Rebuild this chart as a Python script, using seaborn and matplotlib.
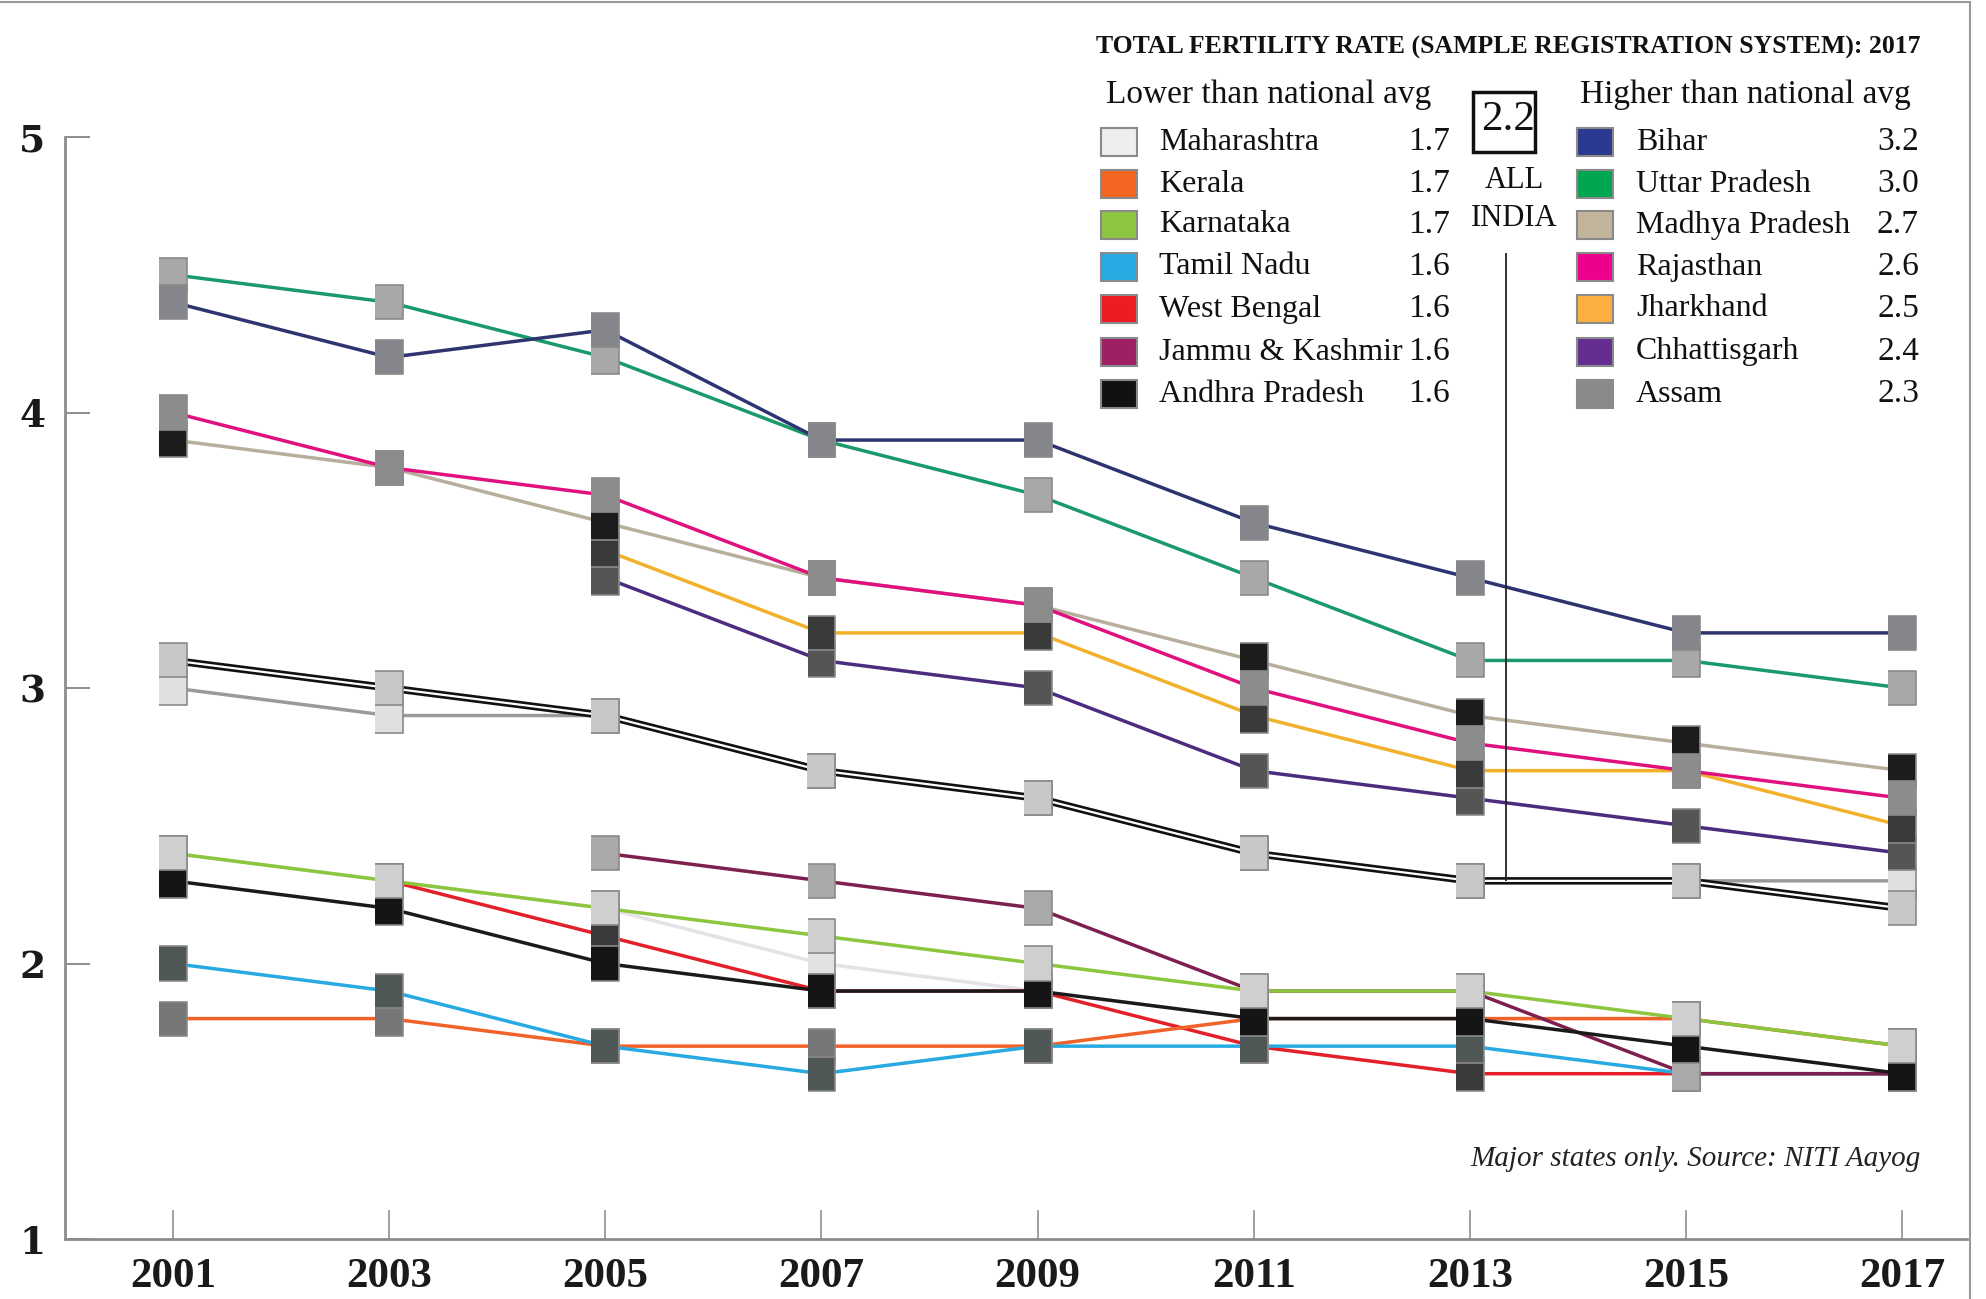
import numpy as np
import pandas as pd
import matplotlib
matplotlib.use("Agg")
import matplotlib.pyplot as plt
from matplotlib.patches import Rectangle
from matplotlib.lines import Line2D
import seaborn as sns

nan = np.nan

# Data: total fertility rate (SRS)
years = [2001, 2003, 2005, 2007, 2009, 2011, 2013, 2015, 2017]

bihar = [4.4, 4.2, 4.3, 3.9, 3.9, 3.6, 3.4, 3.2, 3.2]
uttar_pradesh = [4.5, 4.4, 4.2, 3.9, 3.7, 3.4, 3.1, 3.1, 3.0]
madhya_pradesh = [3.9, 3.8, 3.6, 3.4, 3.3, 3.1, 2.9, 2.8, 2.7]
rajasthan = [4.0, 3.8, 3.7, 3.4, 3.3, 3.0, 2.8, 2.7, 2.6]
jharkhand = [nan, nan, 3.5, 3.2, 3.2, 2.9, 2.7, 2.7, 2.5]
chhattisgarh = [nan, nan, 3.4, 3.1, 3.0, 2.7, 2.6, 2.5, 2.4]
assam = [3.0, 2.9, 2.9, 2.7, 2.6, 2.4, 2.3, 2.3, 2.3]
all_india = [3.1, 3.0, 2.9, 2.7, 2.6, 2.4, 2.3, 2.3, 2.2]
maharashtra = [2.4, 2.3, 2.2, 2.0, 1.9, 1.8, 1.8, 1.8, 1.7]
kerala = [1.8, 1.8, 1.7, 1.7, 1.7, 1.8, 1.8, 1.8, 1.7]
karnataka = [2.4, 2.3, 2.2, 2.1, 2.0, 1.9, 1.9, 1.8, 1.7]
tamil_nadu = [2.0, 1.9, 1.7, 1.6, 1.7, 1.7, 1.7, 1.6, 1.6]
west_bengal = [nan, 2.3, 2.1, 1.9, 1.9, 1.7, 1.6, 1.6, 1.6]
jammu_kashmir = [nan, nan, 2.4, 2.3, 2.2, 1.9, 1.9, 1.6, 1.6]
andhra_pradesh = [2.3, 2.2, 2.0, 1.9, 1.9, 1.8, 1.8, 1.7, 1.6]

lower_states = ["Maharashtra", "Kerala", "Karnataka", "Tamil Nadu",
                "West Bengal", "Jammu & Kashmir", "Andhra Pradesh"]
lower_values = ["1.7", "1.7", "1.7", "1.6", "1.6", "1.6", "1.6"]
higher_states = ["Bihar", "Uttar Pradesh", "Madhya Pradesh", "Rajasthan",
                 "Jharkhand", "Chhattisgarh", "Assam"]
higher_values = ["3.2", "3.0", "2.7", "2.6", "2.5", "2.4", "2.3"]
india_2017 = "2.2"
india_line_year = 2013.33

series = {
    "Maharashtra": maharashtra, "Assam": assam, "West Bengal": west_bengal,
    "Kerala": kerala, "Tamil Nadu": tamil_nadu, "Jammu & Kashmir": jammu_kashmir,
    "Andhra Pradesh": andhra_pradesh, "Karnataka": karnataka,
    "Chhattisgarh": chhattisgarh, "Jharkhand": jharkhand,
    "Madhya Pradesh": madhya_pradesh, "Rajasthan": rajasthan,
    "Uttar Pradesh": uttar_pradesh, "Bihar": bihar,
}
draw_order = list(series.keys())

line_colors = {
    "Maharashtra": "#e6e1e6", "Kerala": "#f0622a", "Karnataka": "#8cc63f",
    "Tamil Nadu": "#27aae1", "West Bengal": "#e3202a", "Jammu & Kashmir": "#7d1f4f",
    "Andhra Pradesh": "#1a1a1a", "Bihar": "#2e3470", "Uttar Pradesh": "#1a9a6a",
    "Madhya Pradesh": "#b8ae9c", "Rajasthan": "#e0117f", "Jharkhand": "#f2b12a",
    "Chhattisgarh": "#4b2c7f", "Assam": "#9a9a9a",
}
legend_colors = {
    "Maharashtra": "#eeeeee", "Kerala": "#f26522", "Karnataka": "#8dc63f",
    "Tamil Nadu": "#27aae1", "West Bengal": "#ed1c24", "Jammu & Kashmir": "#9e1f63",
    "Andhra Pradesh": "#111111", "Bihar": "#2b3990", "Uttar Pradesh": "#00a651",
    "Madhya Pradesh": "#c2b59b", "Rajasthan": "#ec008c", "Jharkhand": "#fbb040",
    "Chhattisgarh": "#662d91", "Assam": "#8a8a8a",
}
marker_colors = {
    "Maharashtra": "#e2e2e2", "Kerala": "#777777", "Karnataka": "#cfcfcf",
    "Tamil Nadu": "#4f5757", "West Bengal": "#3a3a3a", "Jammu & Kashmir": "#a9a9a9",
    "Andhra Pradesh": "#151515", "Bihar": "#85858c", "Uttar Pradesh": "#a8a8a8",
    "Madhya Pradesh": "#1c1c1c", "Rajasthan": "#8c8c8c", "Jharkhand": "#3a3a3a",
    "Chhattisgarh": "#555555", "Assam": "#e0e0e0",
}

rows = []
for name in draw_order:
    for yr, v in zip(years, series[name]):
        rows.append({"state": name, "year": yr, "tfr": v})
df = pd.DataFrame(rows).dropna()
india = pd.DataFrame({"year": years, "tfr": all_india})

sns.set_theme(style="white")
plt.rcParams["font.family"] = ["Liberation Serif", "DejaVu Serif"]

W, H = 1986, 1299
fig = plt.figure(figsize=(W / 100, H / 100), dpi=100)
ax = fig.add_axes([65 / W, 60 / H, (1967 - 65) / W, (1239 - 137) / H])


def fx(px):
    return px / W


def fy(py):
    return 1 - py / H


# lines
sns.lineplot(data=df, x="year", y="tfr", hue="state", hue_order=draw_order,
             palette=line_colors, linewidth=2.5, legend=False, ax=ax, zorder=2)
sns.lineplot(data=india, x="year", y="tfr", color="#111111", linewidth=5.4,
             ax=ax, zorder=3)
sns.lineplot(data=india, x="year", y="tfr", color="white", linewidth=1.6,
             ax=ax, zorder=3.1)

# square markers on top
box = [(-0.41, -0.5), (0.41, -0.5), (0.41, 0.5), (-0.41, 0.5)]
sns.scatterplot(data=df, x="year", y="tfr", hue="state", hue_order=draw_order,
                palette=marker_colors, marker=box, s=600, edgecolor="#8a8a8a",
                linewidth=1.2, legend=False, ax=ax, zorder=5)
sns.scatterplot(data=india, x="year", y="tfr", color="#c8c8c8", marker=box,
                s=600, edgecolor="#8a8a8a", linewidth=1.2, ax=ax, zorder=5)

# all-India pointer line
ax.vlines(india_line_year, all_india[6], 4.58, color="#222222", linewidth=1.3,
          zorder=4)

ax.set_xlim(2000, 2017.6)
ax.set_ylim(1, 5)
ax.set_xticks(years)
ax.set_xticklabels([str(y) for y in years])
ax.set_yticks([1, 2, 3, 4, 5])
ax.set_xlabel("")
ax.set_ylabel("")
for s in ["top", "right"]:
    ax.spines[s].set_visible(False)
for s in ["left", "bottom"]:
    ax.spines[s].set_color("#8c8c8c")
    ax.spines[s].set_linewidth(2)
ax.tick_params(axis="y", direction="in", length=18, width=1.4, color="#8c8c8c",
               pad=14, labelsize=27, left=True)
ax.tick_params(axis="x", direction="in", length=21, width=1.4, color="#a0a0a0",
               pad=14, labelsize=31, bottom=True)
for lab in ax.get_yticklabels():
    lab.set_family("DejaVu Serif")
    lab.set_fontweight("bold")
    lab.set_color("#1a1a1a")
for lab in ax.get_xticklabels():
    lab.set_fontweight("bold")
    lab.set_color("#1a1a1a")

# frame lines on the page
fig.add_artist(Line2D([0, fx(1970)], [fy(2), fy(2)], color="#9a9a9a", lw=1.5))
fig.add_artist(Line2D([fx(1970), fx(1970)], [0, fy(2)], color="#9a9a9a", lw=1.5))

# legend block
fig.text(fx(1096), fy(47), "TOTAL FERTILITY RATE (SAMPLE REGISTRATION SYSTEM): 2017",
         fontsize=18.5, fontweight="bold", ha="left", va="center", color="#111111")
fig.text(fx(1106), fy(95), "Lower than national avg", fontsize=24,
         ha="left", va="center", color="#111111")
fig.text(fx(1580), fy(95), "Higher than national avg", fontsize=24,
         ha="left", va="center", color="#111111")

row_y = [142, 184, 225, 267, 309, 352, 394]
for i, yy in enumerate(row_y):
    for names, vals, sq_x, name_x, val_x in [
        (lower_states, lower_values, 1119, 1159, 1450),
        (higher_states, higher_values, 1595, 1636, 1919),
    ]:
        name = names[i]
        fig.add_artist(Rectangle((fx(sq_x - 18), fy(yy + 14)), 36 / W, 28 / H,
                                 transform=fig.transFigure,
                                 facecolor=legend_colors[name],
                                 edgecolor="#8a8a8a", linewidth=1.5))
        fig.text(fx(name_x), fy(yy), name, fontsize=23, ha="left",
                 va="center", color="#111111")
        fig.text(fx(val_x), fy(yy), vals[i], fontsize=24, ha="right",
                 va="center", color="#111111")

fig.add_artist(Rectangle((fx(1473), fy(152)), 62 / W, 60 / H,
                         transform=fig.transFigure, facecolor="white",
                         edgecolor="#111111", linewidth=2.5))
fig.text(fx(1508), fy(120), india_2017, fontsize=31, ha="center",
         va="center", color="#111111")
fig.text(fx(1514), fy(180), "ALL", fontsize=22, ha="center", va="center",
         color="#111111")
fig.text(fx(1514), fy(218), "INDIA", fontsize=22, ha="center", va="center",
         color="#111111")

fig.text(fx(1921), fy(1159), "Major states only. Source: NITI Aayog",
         fontsize=21, style="italic", ha="right", va="center", color="#222222")

fig.savefig("out.png", dpi=100, facecolor="white")
